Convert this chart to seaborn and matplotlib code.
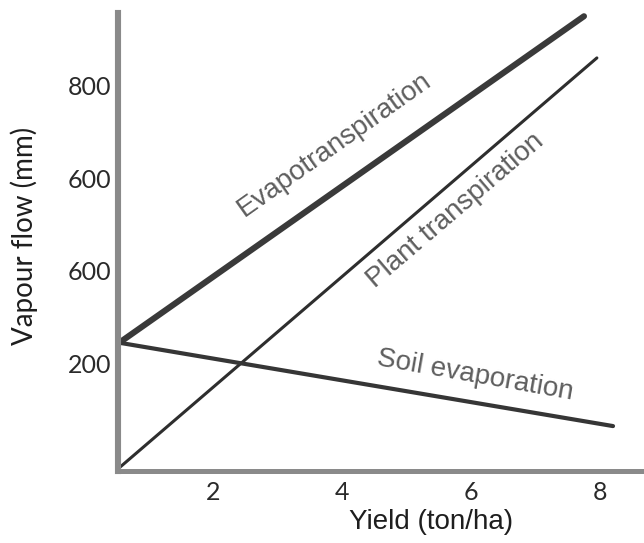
import matplotlib
matplotlib.use("Agg")
import matplotlib.pyplot as plt
import seaborn as sns
import pandas as pd

# Yield (ton/ha) and vapour flow (mm) at the two ends of each straight line
et_yield = [0.55, 7.75]
et_flow = [245, 950]
pt_yield = [0.55, 7.95]
pt_flow = [-25, 860]
se_yield = [0.55, 8.2]
se_flow = [245, 65]

components = ["Evapotranspiration", "Plant transpiration", "Soil evaporation"]

x_ticks = [2, 4, 6, 8]
x_tick_labels = ["2", "4", "6", "8"]
y_ticks = [200, 400, 600, 800]
y_tick_labels = ["200", "600", "600", "800"]

df = pd.concat([
    pd.DataFrame({"yield": et_yield, "flow": et_flow, "component": components[0]}),
    pd.DataFrame({"yield": pt_yield, "flow": pt_flow, "component": components[1]}),
    pd.DataFrame({"yield": se_yield, "flow": se_flow, "component": components[2]}),
])

sns.set_style("white")
plt.rcParams["font.family"] = ["Liberation Sans", "DejaVu Sans"]

fig = plt.figure(figsize=(6.44, 5.43), dpi=100)
ax = fig.add_axes([118 / 644, 72 / 543, 526 / 644, 458 / 543])

sns.lineplot(
    data=df, x="yield", y="flow", hue="component", size="component",
    palette={components[0]: "#3a3a3a", components[1]: "#2e2e2e", components[2]: "#363636"},
    sizes={components[0]: 4.4, components[1]: 2.2, components[2]: 3.0},
    estimator=None, sort=False, legend=False, ax=ax,
)

ax.set_xlim(0.53, 8.68)
ax.set_ylim(-32, 957)

for s in ["top", "right"]:
    ax.spines[s].set_visible(False)
ax.spines["left"].set_color("#8a8a8a")
ax.spines["left"].set_linewidth(4.4)
ax.spines["bottom"].set_color("#8a8a8a")
ax.spines["bottom"].set_linewidth(3.6)

ax.set_xticks(x_ticks)
ax.set_xticklabels(x_tick_labels)
ax.set_yticks(y_ticks)
ax.set_yticklabels(y_tick_labels)
ax.tick_params(axis="both", length=0, labelsize=18, labelcolor="#2a2a2a")
ax.tick_params(axis="y", pad=5)
ax.tick_params(axis="x", pad=7)
for lab in ax.get_xticklabels() + ax.get_yticklabels():
    lab.set_family(["Lato", "DejaVu Sans"])

ax.set_xlabel("Yield (ton/ha)", fontsize=20, color="#1e1e1e")
ax.xaxis.set_label_coords(0.595, -0.082)
ax.set_ylabel("Vapour flow (mm)", fontsize=20, color="#1e1e1e", family=["Lato", "DejaVu Sans"])
ax.yaxis.set_label_coords(-0.152, 0.513)

label_style = dict(fontsize=20, color="#5e5e5e", ha="center", va="center", rotation_mode="anchor")
ax.text(3.89, 673, "Evapotranspiration", rotation=35.3, **label_style)
ax.text(5.76, 530, "Plant transpiration", rotation=40.5, **label_style)
ax.text(6.06, 175, "Soil evaporation", rotation=-10, **label_style)

ax.set_facecolor("white")
fig.savefig("out.png", dpi=100, facecolor="white")
